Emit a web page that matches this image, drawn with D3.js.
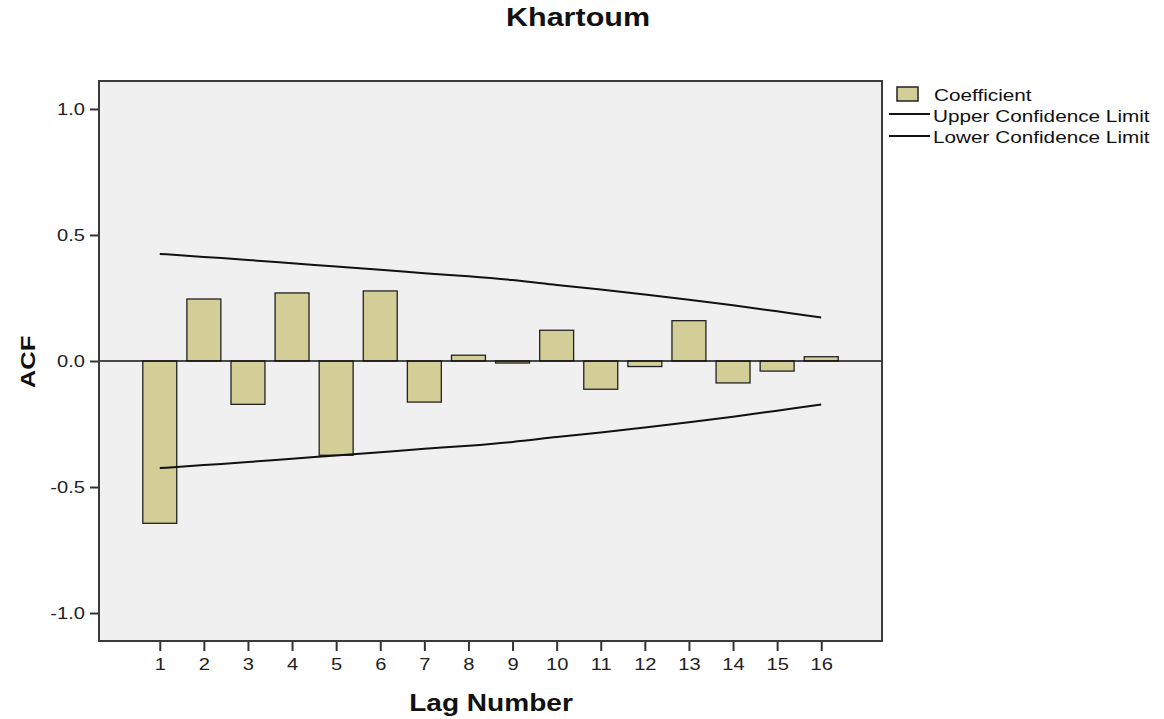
<!DOCTYPE html>
<html>
<head>
<meta charset="utf-8">
<script src="https://cdn.jsdelivr.net/npm/d3@7"></script>
<style>
body { margin: 0; background: #fff; }
text { font-family: "Liberation Sans", Arial, sans-serif; }
</style>
</head>
<body>
<svg id="chart" width="1164" height="719"></svg>
<script>
let lags = [1, 2, 3, 4, 5, 6, 7, 8, 9, 10, 11, 12, 13, 14, 15, 16];
let coefficient = [-0.644, 0.246, -0.172, 0.270, -0.374, 0.278, -0.163, 0.023,
	-0.008, 0.122, -0.112, -0.022, 0.160, -0.087, -0.040, 0.017];
let upperLimit = [0.425, 0.413, 0.401, 0.388, 0.375, 0.362, 0.348, 0.336,
	0.321, 0.302, 0.284, 0.264, 0.243, 0.221, 0.197, 0.173];
let lowerLimit = upperLimit.map((v) => -v);
let yTicks = [-1.0, -0.5, 0.0, 0.5, 1.0];
let legendItems = ["Coefficient", "Upper Confidence Limit", "Lower Confidence Limit"];

let svg = d3.select("#chart");
let pLeft = 99, pRight = 882, pTop = 81, pBottom = 641;
let stretch = 1.22; // the source text is drawn wider than Arial

let x = d3.scalePoint().domain(lags).range([pLeft, pRight]).padding(1.378);
let y = d3.scaleLinear().domain([-1.111, 1.111]).range([pBottom, pTop]);
let barW = x.step() * 0.77;

// text at (tx,ty), stretched horizontally
let label = function(parent, tx, ty, str, size, bold, anchor, rot) {
	return parent.append("text")
		.attr("transform", `translate(${tx},${ty})` + (rot ? ` rotate(${rot})` : "") + ` scale(${stretch},1)`)
		.attr("text-anchor", anchor || "start")
		.style("font-size", size + "px")
		.style("font-weight", bold ? "bold" : "normal")
		.attr("fill", "#111")
		.text(str);
};

svg.append("rect")
	.attr("x", pLeft).attr("y", pTop)
	.attr("width", pRight - pLeft).attr("height", pBottom - pTop)
	.attr("fill", "#f0f0f0");

// bars
svg.selectAll("rect.bar")
	.data(lags)
	.enter().append("rect")
	.attr("class", "bar")
	.attr("x", (d) => x(d) - barW / 2)
	.attr("y", (d, i) => y(Math.max(0, coefficient[i])))
	.attr("width", barW)
	.attr("height", (d, i) => Math.abs(y(coefficient[i]) - y(0)))
	.attr("fill", "#d3ce97")
	.attr("stroke", "#222")
	.attr("stroke-width", 1.3);

// zero line
svg.append("line")
	.attr("x1", pLeft).attr("x2", pRight)
	.attr("y1", y(0)).attr("y2", y(0))
	.attr("stroke", "#111").attr("stroke-width", 1.5);

let line = d3.line().x((d, i) => x(lags[i])).y((d) => y(d)).curve(d3.curveMonotoneX);
[upperLimit, lowerLimit].forEach((s) => {
	svg.append("path")
		.attr("d", line(s))
		.attr("fill", "none")
		.attr("stroke", "#111")
		.attr("stroke-width", 2);
});

// axes
let yAxis = svg.append("g")
	.attr("transform", `translate(${pLeft},0)`)
	.call(d3.axisLeft(y).tickValues(yTicks).tickSize(9).tickPadding(5).tickFormat((d) => d.toFixed(1)));
let xAxis = svg.append("g")
	.attr("transform", `translate(0,${pBottom})`)
	.call(d3.axisBottom(x).tickSize(10).tickPadding(7));
[yAxis, xAxis].forEach((g) => {
	g.select(".domain").remove();
	g.selectAll(".tick line").attr("stroke", "#333").attr("stroke-width", 2);
	g.selectAll(".tick text").each(function() {
		let t = d3.select(this);
		let tx = +t.attr("x") || 0, ty = +t.attr("y") || 0;
		t.attr("x", null).attr("y", null)
			.attr("transform", `translate(${tx},${ty}) scale(${stretch},1)`)
			.attr("fill", "#222")
			.style("font-size", "16.5px")
			.style("font-family", "Liberation Sans, Arial, sans-serif");
	});
});

// frame
svg.append("rect")
	.attr("x", pLeft).attr("y", pTop)
	.attr("width", pRight - pLeft).attr("height", pBottom - pTop)
	.attr("fill", "none")
	.attr("stroke", "#3a3a3a")
	.attr("stroke-width", 2);

// titles
label(svg, 578, 26, "Khartoum", 25, true, "middle");
label(svg, 491, 711, "Lag Number", 23, true, "middle");
label(svg, 35, 362, "ACF", 21, true, "middle", -90);

// legend
let lg = svg.append("g");
lg.append("rect")
	.attr("x", 897).attr("y", 87).attr("width", 21).attr("height", 14)
	.attr("fill", "#d3ce97").attr("stroke", "#222").attr("stroke-width", 1.5);
[114, 136].forEach((ly) => {
	lg.append("line")
		.attr("x1", 889).attr("x2", 930).attr("y1", ly).attr("y2", ly)
		.attr("stroke", "#111").attr("stroke-width", 2);
});
legendItems.forEach((d, i) => {
	label(lg, i == 0 ? 934 : 933, [101, 121.5, 143][i], d, 17, false, "start");
});
</script>
</body>
</html>
